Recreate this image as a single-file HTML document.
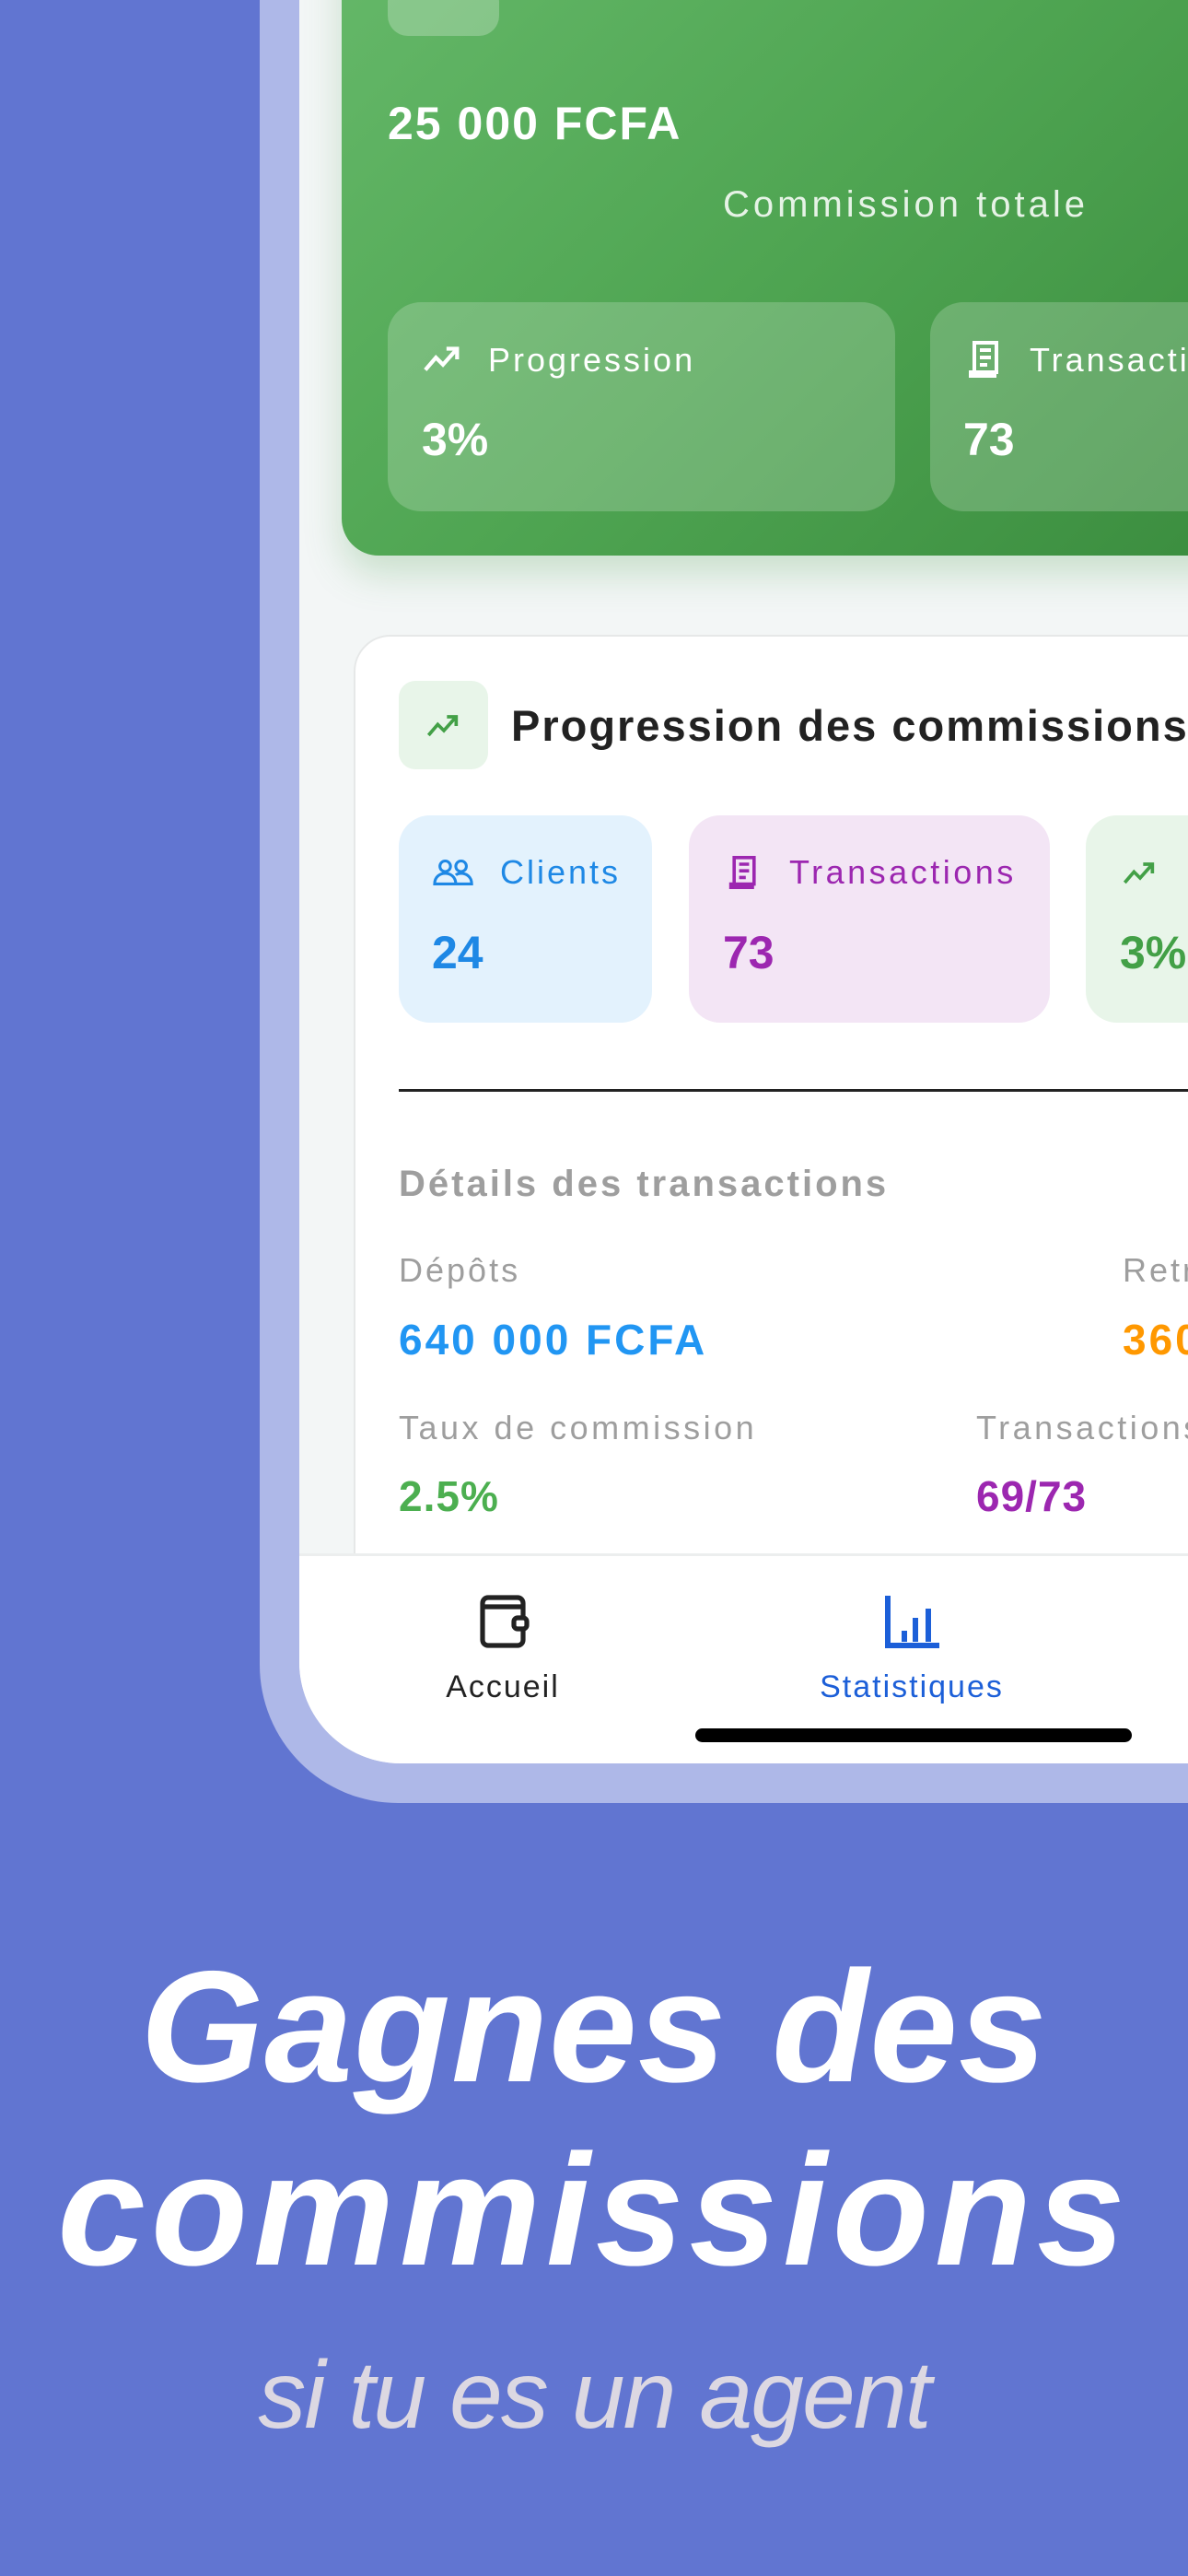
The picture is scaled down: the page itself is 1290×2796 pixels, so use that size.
<!DOCTYPE html>
<html><head><meta charset="utf-8"><style>
*{margin:0;padding:0;box-sizing:border-box}
html,body{width:1290px;height:2796px;overflow:hidden}
body{background:#6175d1;position:relative;font-family:"Liberation Sans",sans-serif}
.a{position:absolute;white-space:nowrap}
</style></head><body>
<div class="a" style="left:282px;top:-200px;width:1008px;height:2157px;background:#aeb8e8;border-radius:0 0 0 150px"></div>
<div class="a" style="left:325px;top:-200px;width:965px;height:2114px;background:#f3f6f6;border-radius:0 0 0 110px;overflow:hidden"></div>
<div class="a" style="left:0;top:0;width:1290px;height:2796px;overflow:hidden">
<!-- green card -->
<div class="a" style="left:371px;top:-100px;width:1000px;height:703px;border-radius:40px;background:linear-gradient(135deg,#66b96a 0%,#4fa552 50%,#3a8c3e 100%);box-shadow:0 20px 40px rgba(76,160,80,0.25)"></div>
<div class="a" style="left:421px;top:-20px;width:121px;height:59px;border-radius:22px;background:rgba(255,255,255,0.25)"></div>
<div class="a" style="left:421px;top:105px;font-size:50px;font-weight:bold;color:#fff;letter-spacing:2px">25 000 FCFA</div>
<div class="a" style="left:785px;top:200px;font-size:40px;color:#e6f3e6;letter-spacing:4px">Commission totale</div>
<div class="a" style="left:421px;top:328px;width:551px;height:227px;border-radius:36px;background:rgba(255,255,255,0.2)"></div>
<div class="a" style="left:1010px;top:328px;width:551px;height:227px;border-radius:36px;background:rgba(255,255,255,0.2)"></div>
<svg class="a" style="left:458px;top:372px" width="46" height="36" viewBox="0 0 24 18"><path d="M2 15l6-7 4 4 8-9M14 3h6v6" fill="none" stroke="#fff" stroke-width="2.2"/></svg>
<div class="a" style="left:530px;top:370px;font-size:36px;color:#fff;letter-spacing:3px">Progression</div>
<div class="a" style="left:458px;top:448px;font-size:50px;font-weight:bold;color:#fff">3%</div>
<svg class="a" style="left:1050px;top:368px" width="40" height="44" viewBox="0 0 20 22"><path d="M4 2h12v16H4zM4 18h-2v2h14M7 6h6M7 10h6M7 14h4" fill="none" stroke="#fff" stroke-width="2"/></svg>
<div class="a" style="left:1118px;top:370px;font-size:36px;color:#fff;letter-spacing:3px">Transactions</div>
<div class="a" style="left:1046px;top:448px;font-size:50px;font-weight:bold;color:#fff">73</div>
<!-- white card -->
<div class="a" style="left:384px;top:689px;width:1000px;height:1100px;border-radius:40px;background:#fff;border:2px solid #e6e8e8"></div>
<div class="a" style="left:433px;top:739px;width:97px;height:96px;border-radius:18px;background:#e8f5e9"></div>
<svg class="a" style="left:462px;top:773px" width="40" height="30" viewBox="0 0 24 18"><path d="M2 15l6-7 4 4 8-9M14 3h6v6" fill="none" stroke="#43a047" stroke-width="2.2"/></svg>
<div class="a" style="left:555px;top:760px;font-size:47px;font-weight:bold;color:#222;letter-spacing:2px">Progression des commissions</div>
<div class="a" style="left:433px;top:885px;width:275px;height:225px;border-radius:34px;background:#e3f2fd"></div>
<div class="a" style="left:748px;top:885px;width:392px;height:225px;border-radius:34px;background:#f3e5f5"></div>
<div class="a" style="left:1179px;top:885px;width:300px;height:225px;border-radius:34px;background:#e8f5e9"></div>
<svg class="a" style="left:470px;top:930px" width="46" height="32" viewBox="0 0 24 16"><circle cx="7" cy="5" r="3" fill="none" stroke="#1e88e5" stroke-width="1.6"/><circle cx="16" cy="5" r="3" fill="none" stroke="#1e88e5" stroke-width="1.6"/><path d="M1 15c0-4 3-6 6-6s6 2 6 6zM13 10c1-1 2-1 3-1 3 0 6 2 6 6h-9" fill="none" stroke="#1e88e5" stroke-width="1.6"/></svg>
<div class="a" style="left:543px;top:926px;font-size:36px;color:#1e88e5;letter-spacing:3px">Clients</div>
<div class="a" style="left:469px;top:1005px;font-size:50px;font-weight:bold;color:#1e88e5">24</div>
<svg class="a" style="left:790px;top:926px" width="36" height="42" viewBox="0 0 20 22"><path d="M4 2h12v16H4zM4 18h-2v2h14M7 6h6M7 10h6M7 14h4" fill="none" stroke="#9c27b0" stroke-width="2"/></svg>
<div class="a" style="left:857px;top:926px;font-size:36px;color:#9c27b0;letter-spacing:3.5px">Transactions</div>
<div class="a" style="left:785px;top:1005px;font-size:50px;font-weight:bold;color:#9c27b0">73</div>
<svg class="a" style="left:1218px;top:933px" width="40" height="30" viewBox="0 0 24 18"><path d="M2 15l6-7 4 4 8-9M14 3h6v6" fill="none" stroke="#43a047" stroke-width="2.2"/></svg>
<div class="a" style="left:1216px;top:1005px;font-size:50px;font-weight:bold;color:#43a047">3%</div>
<div class="a" style="left:433px;top:1182px;width:900px;height:3px;background:#222"></div>
<div class="a" style="left:433px;top:1263px;font-size:40px;font-weight:bold;color:#9e9e9e;letter-spacing:3px">Détails des transactions</div>
<div class="a" style="left:433px;top:1358px;font-size:36px;color:#9e9e9e;letter-spacing:3px">Dépôts</div>
<div class="a" style="left:1219px;top:1358px;font-size:36px;color:#9e9e9e;letter-spacing:3px">Retraits</div>
<div class="a" style="left:433px;top:1427px;font-size:46px;font-weight:bold;color:#2196f3;letter-spacing:3px">640 000 FCFA</div>
<div class="a" style="left:1219px;top:1427px;font-size:46px;font-weight:bold;color:#ff9800;letter-spacing:3px">360 000 FCFA</div>
<div class="a" style="left:433px;top:1529px;font-size:36px;color:#9e9e9e;letter-spacing:3.5px">Taux de commission</div>
<div class="a" style="left:1060px;top:1529px;font-size:36px;color:#9e9e9e;letter-spacing:3.5px">Transactions</div>
<div class="a" style="left:433px;top:1597px;font-size:46px;font-weight:bold;color:#4caf50;letter-spacing:1px">2.5%</div>
<div class="a" style="left:1060px;top:1597px;font-size:46px;font-weight:bold;color:#9c27b0;letter-spacing:1px">69/73</div>
<!-- nav -->
<div class="a" style="left:325px;top:1686px;width:965px;height:228px;background:#fff;border-top:3px solid #eceeee;border-radius:0 0 0 110px"></div>
<svg class="a" style="left:516px;top:1728px" width="64" height="64" viewBox="0 0 32 32"><rect x="4" y="3" width="22" height="26" rx="3" fill="none" stroke="#222" stroke-width="2.6"/><path d="M4 8h22" stroke="#222" stroke-width="2.6"/><rect x="21" y="14" width="7" height="6" rx="2" fill="#fff" stroke="#222" stroke-width="2.6"/></svg>
<div class="a" style="left:446px;width:200px;text-align:center;top:1812px;font-size:34px;color:#222;letter-spacing:2px">Accueil</div>
<svg class="a" style="left:958px;top:1728px" width="64" height="64" viewBox="0 0 32 32"><path d="M3 2v27h28" fill="none" stroke="#1c5fd8" stroke-width="3"/><path d="M12 21v6M18 14v13M25 9v18" stroke="#1c5fd8" stroke-width="3"/></svg>
<div class="a" style="left:840px;width:300px;text-align:center;top:1812px;font-size:34px;color:#1c5fd8;letter-spacing:2px">Statistiques</div>
<div class="a" style="left:755px;top:1876px;width:474px;height:15px;border-radius:8px;background:#000"></div>
</div>
<!-- headline -->
<div class="a" style="left:0;width:1290px;top:2100px;text-align:center;font-size:172px;font-weight:bold;font-style:italic;color:#fff;line-height:200px;letter-spacing:1px">Gagnes des</div>
<div class="a" style="left:0;width:1290px;top:2299px;text-align:center;font-size:172px;font-weight:bold;font-style:italic;color:#fff;line-height:200px;letter-spacing:6px">commissions</div>
<div class="a" style="left:0;width:1290px;top:2540px;text-align:center;font-size:104px;font-style:italic;color:#dcd8e2;line-height:120px;letter-spacing:-2px">si tu es un agent</div>
</body></html>
